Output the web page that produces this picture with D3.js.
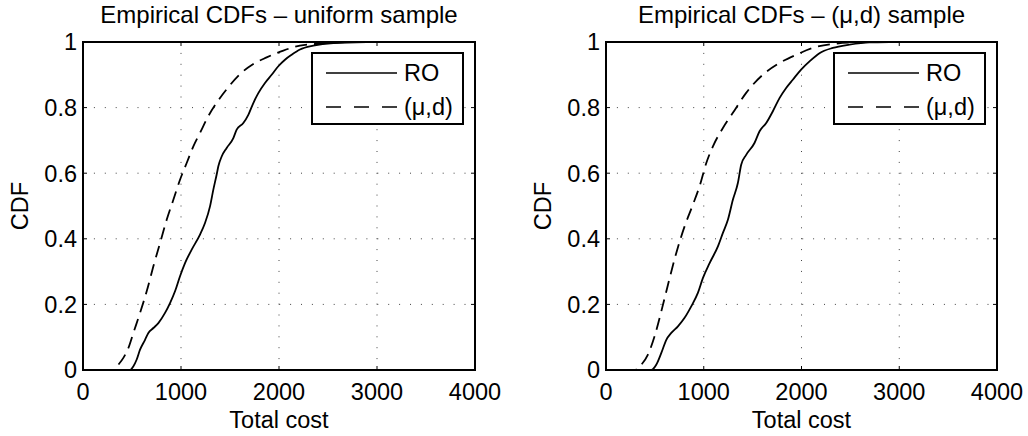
<!DOCTYPE html>
<html>
<head>
<meta charset="utf-8">
<script src="https://cdn.jsdelivr.net/npm/d3@7"></script>
<style>
  body { margin: 0; background: #fff; }
  svg text { font-family: "Liberation Sans", Arial, sans-serif; fill: #000; }
</style>
</head>
<body>
<svg id="chart" width="1028" height="436"></svg>
<script>
const xTicks = [0, 1000, 2000, 3000, 4000];
const yTicks = [0, 0.2, 0.4, 0.6, 0.8, 1];
const seriesNames = ["RO", "(\u03bc,d)"];
const titles = ["Empirical CDFs \u2013 uniform sample", "Empirical CDFs \u2013 (\u03bc,d) sample"];

// [total cost, cdf]
const uniformRO = [
  [0, 0], [480, 0], [513, 0.011], [548, 0.032], [582, 0.062], [633, 0.092], [667, 0.113],
  [718, 0.128], [769, 0.143], [837, 0.174], [888, 0.204], [939, 0.240], [990, 0.286],
  [1041, 0.326], [1109, 0.367], [1194, 0.413], [1245, 0.448], [1296, 0.499], [1330, 0.550],
  [1364, 0.596], [1381, 0.621], [1415, 0.651], [1466, 0.677], [1534, 0.707], [1568, 0.733],
  [1636, 0.753], [1687, 0.778], [1738, 0.814], [1789, 0.844], [1857, 0.875], [1925, 0.900],
  [1993, 0.926], [2061, 0.946], [2129, 0.961], [2214, 0.977], [2350, 0.989], [2554, 0.997],
  [2894, 1.0]
];
const uniformMuD = [
  [0, 0], [310, 0], [360, 0.016], [412, 0.037], [463, 0.067], [514, 0.113], [582, 0.174],
  [650, 0.240], [718, 0.316], [786, 0.387], [854, 0.458], [922, 0.519], [990, 0.580],
  [1058, 0.631], [1126, 0.682], [1194, 0.723], [1279, 0.774], [1364, 0.815], [1466, 0.856],
  [1602, 0.902], [1738, 0.933], [1874, 0.953], [2044, 0.974], [2214, 0.989], [2418, 0.995],
  [2724, 1.0]
];
const muDRO = [
  [0, 0], [463, 0], [514, 0.016], [566, 0.052], [617, 0.092], [668, 0.113], [736, 0.133],
  [804, 0.159], [872, 0.194], [940, 0.235], [991, 0.280], [1060, 0.326], [1145, 0.377],
  [1196, 0.418], [1247, 0.458], [1298, 0.519], [1349, 0.570], [1383, 0.626], [1434, 0.656],
  [1519, 0.692], [1571, 0.728], [1639, 0.753], [1707, 0.789], [1775, 0.829], [1843, 0.860],
  [1911, 0.885], [1996, 0.916], [2082, 0.941], [2184, 0.966], [2320, 0.982], [2490, 0.992],
  [2695, 0.999], [2900, 1.0]
];
const muDMuD = [
  [0, 0], [293, 0], [361, 0.016], [429, 0.047], [497, 0.103], [566, 0.179], [634, 0.260],
  [719, 0.357], [804, 0.438], [889, 0.504], [957, 0.560], [1026, 0.631], [1094, 0.682],
  [1196, 0.738], [1298, 0.784], [1434, 0.845], [1604, 0.900], [1775, 0.936], [1945, 0.961],
  [2116, 0.982], [2320, 0.994], [2593, 0.999], [2800, 1.0]
];

const svg = d3.select("#chart");
const fontSize = 23.5;

function drawPanel(left, right, title, roData, mudData) {
  const top = 42, bottom = 370;
  const x = d3.scaleLinear().domain([0, 4000]).range([left, right]);
  const y = d3.scaleLinear().domain([0, 1]).range([bottom, top]);
  const g = svg.append("g");

  // dotted grid
  g.selectAll(".gx").data(xTicks.slice(1, -1)).enter().append("line")
    .attr("x1", d => x(d)).attr("x2", d => x(d))
    .attr("y1", top).attr("y2", bottom)
    .attr("stroke", "#444").attr("stroke-width", 1)
    .attr("stroke-dasharray", "1,9.9");
  g.selectAll(".gy").data(yTicks.slice(1, -1)).enter().append("line")
    .attr("y1", d => y(d)).attr("y2", d => y(d))
    .attr("x1", left).attr("x2", right)
    .attr("stroke", "#444").attr("stroke-width", 1)
    .attr("stroke-dasharray", "1,9.9");

  // inward ticks on all four sides
  const tl = 4;
  xTicks.forEach(t => {
    g.append("line").attr("x1", x(t)).attr("x2", x(t)).attr("y1", bottom).attr("y2", bottom - tl).attr("stroke", "#000");
    g.append("line").attr("x1", x(t)).attr("x2", x(t)).attr("y1", top).attr("y2", top + tl).attr("stroke", "#000");
  });
  yTicks.forEach(t => {
    g.append("line").attr("y1", y(t)).attr("y2", y(t)).attr("x1", left).attr("x2", left + tl).attr("stroke", "#000");
    g.append("line").attr("y1", y(t)).attr("y2", y(t)).attr("x1", right).attr("x2", right - tl).attr("stroke", "#000");
  });

  const line = d3.line().x(d => x(d[0])).y(d => y(d[1])).curve(d3.curveMonotoneX);

  g.append("path").datum(mudData).attr("d", line)
    .attr("fill", "none").attr("stroke", "#000").attr("stroke-width", 1.8)
    .attr("stroke-dasharray", "12,7");
  g.append("path").datum(roData).attr("d", line)
    .attr("fill", "none").attr("stroke", "#000").attr("stroke-width", 1.8);

  // box
  g.append("rect").attr("x", left).attr("y", top)
    .attr("width", right - left).attr("height", bottom - top)
    .attr("fill", "none").attr("stroke", "#000").attr("stroke-width", 2);

  // tick labels
  g.selectAll(".xl").data(xTicks).enter().append("text")
    .attr("x", d => x(d)).attr("y", 400)
    .attr("text-anchor", "middle").style("font-size", fontSize + "px")
    .text(d => d);
  g.selectAll(".yl").data(yTicks).enter().append("text")
    .attr("x", left - 6).attr("y", d => y(d)).attr("dy", "0.36em")
    .attr("text-anchor", "end").style("font-size", fontSize + "px")
    .text(d => d3.format("~g")(d));

  g.append("text").attr("x", (left + right) / 2).attr("y", 23)
    .attr("text-anchor", "middle").style("font-size", "24px").text(title);
  g.append("text").attr("x", (left + right) / 2).attr("y", 428)
    .attr("text-anchor", "middle").style("font-size", fontSize + "px").text("Total cost");
  g.append("text")
    .attr("transform", `translate(${left - 55},${(top + bottom) / 2}) rotate(-90)`)
    .attr("text-anchor", "middle").style("font-size", fontSize + "px").text("CDF");

  // legend
  const lx = right - 163, ly = 53;
  g.append("rect").attr("x", lx).attr("y", ly).attr("width", 151).attr("height", 71)
    .attr("fill", "#fff").attr("stroke", "#000").attr("stroke-width", 2);
  const dashes = [null, "15,13"];
  seriesNames.forEach((name, i) => {
    const cy = ly + 20 + i * 34;
    g.append("line").attr("x1", lx + 14).attr("x2", lx + 85).attr("y1", cy).attr("y2", cy)
      .attr("stroke", "#000").attr("stroke-width", 1.3)
      .attr("stroke-dasharray", dashes[i]);
    g.append("text").attr("x", lx + 92).attr("y", cy).attr("dy", "0.36em")
      .style("font-size", fontSize + "px").text(name);
  });
}

drawPanel(83, 475, titles[0], uniformRO, uniformMuD);
drawPanel(606, 997, titles[1], muDRO, muDMuD);
</script>
</body>
</html>
